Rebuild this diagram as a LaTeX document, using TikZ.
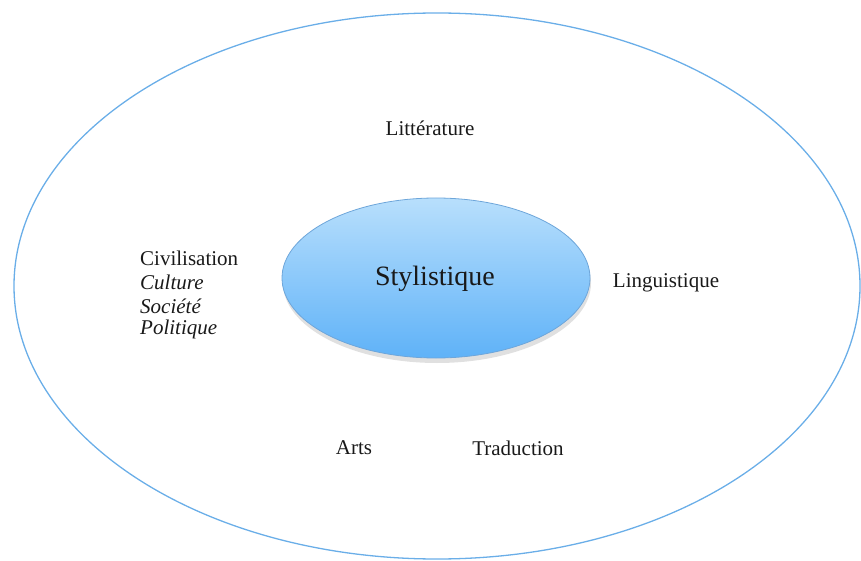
\documentclass[tikz,border=0pt]{standalone}
\usepackage{fontspec}
\setmainfont{Liberation Serif}
\usetikzlibrary{shadows,shapes.geometric}
\definecolor{outerline}{HTML}{6AAEE8}
\definecolor{innertop}{HTML}{B8DFFC}
\definecolor{innerbot}{HTML}{5FB2F8}
\definecolor{innerline}{HTML}{6EA6DA}
\tikzset{
  lbl/.style={font=\fontsize{21}{25}\selectfont, text=black!90, inner sep=0pt},
  ital/.style={lbl, font=\fontsize{21}{25}\selectfont\itshape},
}
\begin{document}
\begin{tikzpicture}[x=1pt,y=-1pt]
\useasboundingbox (0,0) rectangle (861,561);
\node[draw=outerline, line width=1.3pt, ellipse, minimum width=846pt, minimum height=546pt, inner sep=0pt] (outer) at (437,286) {};
\node[ellipse, minimum width=308pt, minimum height=160pt, inner sep=0pt,
  draw=innerline, line width=0.8pt, top color=innertop, bottom color=innerbot,
  drop shadow={shadow xshift=1pt, shadow yshift=-5pt, opacity=0.2, fill=black!60}] (styl) at (436,278) {};
\node[lbl, font=\fontsize{28}{32}\selectfont] (stylt) at (435,279) {Stylistique};
\node[lbl] (litt) at (430,128) {Littérature};
\node[lbl] (ling) at (666,283) {Linguistique};
\node[lbl, anchor=west] (civ) at (140,258) {Civilisation};
\node[ital, anchor=west] (cult) at (140,282) {Culture};
\node[ital, anchor=west] (soc) at (140,306) {Société};
\node[ital, anchor=west] (pol) at (140,329) {Politique};
\node[lbl] (arts) at (354,448) {Arts};
\node[lbl] (trad) at (518,448) {Traduction};
\end{tikzpicture}
\end{document}
